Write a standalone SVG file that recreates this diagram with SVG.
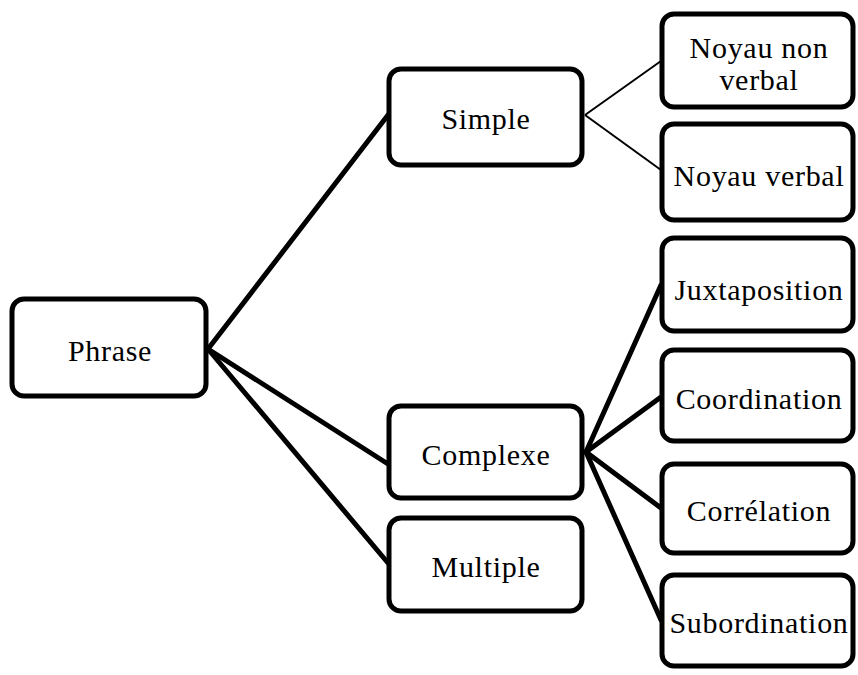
<svg xmlns="http://www.w3.org/2000/svg" width="858" height="675" viewBox="0 0 858 675">
<style>
.box{fill:#fff;stroke:#000;stroke-width:5}
.t{font-family:"Liberation Serif","DejaVu Serif",serif;font-size:30px;letter-spacing:0.7px;fill:#000;text-anchor:middle}
.thick{stroke:#000;stroke-width:5;fill:none;stroke-linecap:round}
.thin{stroke:#000;stroke-width:2;fill:none}
</style>
<rect width="858" height="675" fill="#fff"/>
<g id="connectors">
<line class="thick" x1="208" y1="349" x2="388" y2="115"/>
<line class="thick" x1="208" y1="349" x2="388" y2="464"/>
<line class="thick" x1="208" y1="349" x2="388" y2="563"/>
<line class="thin" x1="585" y1="115" x2="661" y2="61"/>
<line class="thin" x1="585" y1="115" x2="661" y2="170"/>
<line class="thick" x1="586" y1="452" x2="661" y2="285"/>
<line class="thick" x1="586" y1="452" x2="661" y2="397"/>
<line class="thick" x1="586" y1="452" x2="661" y2="508"/>
<line class="thick" x1="586" y1="452" x2="661" y2="620"/>
</g>
<g id="phrase"><rect class="box" x="12" y="299" width="194" height="97" rx="12"/><text class="t" x="110" y="361">Phrase</text></g>
<g id="simple"><rect class="box" x="389" y="69" width="193" height="96" rx="12"/><text class="t" x="486" y="129">Simple</text></g>
<g id="complexe"><rect class="box" x="389" y="406" width="193" height="92" rx="12"/><text class="t" x="486" y="465">Complexe</text></g>
<g id="multiple"><rect class="box" x="389" y="518" width="193" height="93" rx="12"/><text class="t" x="486" y="577">Multiple</text></g>
<g id="noyau-non-verbal"><rect class="box" x="662" y="14" width="191" height="93" rx="12"/><text class="t" x="759" y="58">Noyau non</text><text class="t" x="759" y="90">verbal</text></g>
<g id="noyau-verbal"><rect class="box" x="662" y="124" width="191" height="96" rx="12"/><text class="t" x="759" y="186">Noyau verbal</text></g>
<g id="juxtaposition"><rect class="box" x="662" y="238" width="191" height="93" rx="12"/><text class="t" x="759" y="300">Juxtaposition</text></g>
<g id="coordination"><rect class="box" x="662" y="350" width="191" height="91" rx="12"/><text class="t" x="759" y="409">Coordination</text></g>
<g id="correlation"><rect class="box" x="662" y="464" width="191" height="89" rx="12"/><text class="t" x="759" y="521">Corrélation</text></g>
<g id="subordination"><rect class="box" x="662" y="575" width="191" height="91" rx="12"/><text class="t" x="759" y="633">Subordination</text></g>
</svg>
